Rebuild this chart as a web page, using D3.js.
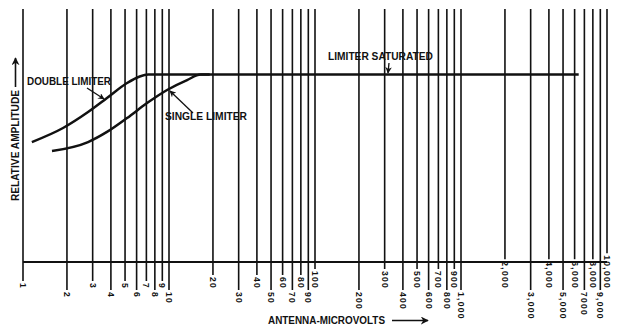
<!DOCTYPE html>
<html>
<head>
<meta charset="utf-8">
<script src="https://cdn.jsdelivr.net/npm/d3@7"></script>
<style>
  body { margin: 0; background: #fff; }
  svg { display: block; }
  text { font-family: "Liberation Sans", Arial, sans-serif; fill: #111; }
</style>
</head>
<body>
<svg id="chart"></svg>
<script>
// tick values along the log axis (antenna microvolts)
const tickValues = [1,2,3,4,5,6,7,8,9,10,20,30,40,50,60,70,80,90,100,
  200,300,400,500,600,700,800,900,1000,2000,3000,4000,5000,6000,7000,8000,9000,10000]
const tickLabels = ['1','2','3','4','5','6','7','8','9','10','20','30','40','50','60','70','80','90','100',
  '200','300','400','500','600','700','800','900','1,000','2,000','3,000','4,000','5,000','6,000','7000','8,000','9,000','10,000']

// double limiter curve (ends in the saturated line)
const doubleX = [1.15, 1.88, 2.79, 3.76, 5.16, 6.3, 7.2, 6400]
const doubleY = [0.64, 0.715, 0.80, 0.875, 0.955, 0.99, 1.0, 1.0]

// single limiter curve
const singleX = [1.58, 2.79, 3.76, 5.16, 7.07, 9.7, 13.3, 16.5, 19]
const singleY = [0.592, 0.64, 0.694, 0.768, 0.848, 0.918, 0.971, 1.0, 1.0]

const width = 623, height = 330

const svg = d3.select('#chart')
  .attr('width', width)
  .attr('height', height)

const x = d3.scaleLog().domain([1, 10000]).range([23, 607])
const y = d3.scaleLinear().domain([0, 1.35]).range([262, 9])

const defs = svg.append('defs')
defs.append('marker')
  .attr('id', 'head')
  .attr('viewBox', '0 0 10 10')
  .attr('refX', 9).attr('refY', 5)
  .attr('markerWidth', 5).attr('markerHeight', 5)
  .attr('orient', 'auto')
  .append('path')
  .attr('d', 'M0,0 L10,5 L0,10 L3,5 Z')
  .attr('fill', '#111')

// tick labels first, so line ends can follow them
let labelTop = 289, labelBottom = 292
let ticks = svg.append('g')

tickValues.forEach(function(v, i) {
  let upper = i % 2 == 0
  let t = ticks.append('text')
    .attr('transform', 'translate(' + (x(v) - 3) + ',' + (upper ? labelTop : labelBottom) + ') rotate(90)')
    .attr('text-anchor', upper ? 'end' : 'start')
    .attr('font-size', 8.5)
    .attr('font-weight', 'bold')
    .attr('letter-spacing', 1.3)
    .text(tickLabels[i])
  let len = t.node().getComputedTextLength()
  let lineEnd = upper ? labelTop - len - 2 : labelBottom - 2
  ticks.append('line')
    .attr('x1', x(v)).attr('x2', x(v))
    .attr('y1', 9).attr('y2', lineEnd)
    .attr('stroke', '#111')
    .attr('stroke-width', 1.6)
})

// baseline
svg.append('line')
  .attr('x1', x(1)).attr('x2', x(10000))
  .attr('y1', y(0)).attr('y2', y(0))
  .attr('stroke', '#111')
  .attr('stroke-width', 2)

const line = d3.line()
  .x(d => x(d[0]))
  .y(d => y(d[1]))
  .curve(d3.curveMonotoneX)

svg.append('path')
  .datum(doubleX.map((v, i) => [v, doubleY[i]]))
  .attr('d', line)
  .attr('fill', 'none')
  .attr('stroke', '#111')
  .attr('stroke-width', 2.5)

svg.append('path')
  .datum(singleX.map((v, i) => [v, singleY[i]]))
  .attr('d', line)
  .attr('fill', 'none')
  .attr('stroke', '#111')
  .attr('stroke-width', 2.5)

// annotations
function label(txt, tx, ty, w) {
  svg.append('text')
    .attr('x', tx).attr('y', ty)
    .attr('font-size', 10)
    .attr('font-weight', 'bold')
    .attr('textLength', w)
    .attr('lengthAdjust', 'spacingAndGlyphs')
    .text(txt)
}
function arrow(x1, y1, x2, y2, sw) {
  svg.append('line')
    .attr('x1', x1).attr('y1', y1)
    .attr('x2', x2).attr('y2', y2)
    .attr('stroke', '#111')
    .attr('stroke-width', sw || 1.3)
    .attr('marker-end', 'url(#head)')
}

label('DOUBLE LIMITER', 27, 85, 84)
arrow(87, 88, 104, 99)

label('SINGLE LIMITER', 165, 120, 82)
arrow(193, 113, 170, 91)

label('LIMITER SATURATED', 328, 60, 105)
arrow(389, 63, 388, 73)

// axis titles
svg.append('text')
  .attr('transform', 'translate(19,201) rotate(-90)')
  .attr('font-size', 10)
  .attr('font-weight', 'bold')
  .attr('textLength', 111)
  .attr('lengthAdjust', 'spacingAndGlyphs')
  .text('RELATIVE AMPLITUDE')
arrow(15.5, 87, 15.5, 58, 1.6)

label('ANTENNA-MICROVOLTS', 268, 324, 117)
arrow(392, 320.5, 428, 320.5, 1.6)
</script>
</body>
</html>
